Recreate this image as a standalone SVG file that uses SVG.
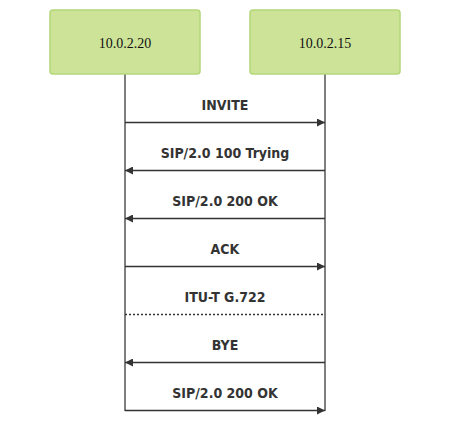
<svg xmlns="http://www.w3.org/2000/svg" width="450" height="421" viewBox="0 0 450 421">
<style>
.actor{fill:#cde498;stroke:#b2d67a;stroke-width:1.5}
.atext{font-family:"Liberation Serif",serif;font-size:14px;fill:#111;text-anchor:middle;dominant-baseline:central}
.life{stroke:#555;stroke-width:1.5}
.msg{stroke:#333;stroke-width:1.5;fill:none}
.dot{stroke:#333;stroke-width:1.5;stroke-dasharray:2,2;fill:none}
.mtext{font-family:"DejaVu Sans Condensed","DejaVu Sans",sans-serif;font-weight:bold;font-size:14px;fill:#333;text-anchor:middle}
</style>
<defs>
<marker id="ah" viewBox="0 0 10 10" refX="10" refY="5" markerWidth="8" markerHeight="8" markerUnits="userSpaceOnUse" orient="auto"><path d="M0,0 L10,5 L0,10 z" fill="#333"/></marker>
</defs>
<rect width="450" height="421" fill="#fff"/>
<g id="lifelines">
<line class="life" x1="125" y1="74" x2="125" y2="411"/>
<line class="life" x1="325" y1="74" x2="325" y2="411"/>
</g>
<g id="a1"><rect class="actor" x="50" y="10" width="150" height="64" rx="3"/><text class="atext" x="125" y="43">10.0.2.20</text></g>
<g id="a2"><rect class="actor" x="250" y="10" width="150" height="64" rx="3"/><text class="atext" x="325" y="43">10.0.2.15</text></g>
<g id="connectors">
<line class="msg" x1="125" y1="122.5" x2="325" y2="122.5" marker-end="url(#ah)"/>
<text class="mtext" x="225" y="110">INVITE</text>
<line class="msg" x1="325" y1="170.5" x2="125" y2="170.5" marker-end="url(#ah)"/>
<text class="mtext" x="225" y="158">SIP/2.0 100 Trying</text>
<line class="msg" x1="325" y1="218.5" x2="125" y2="218.5" marker-end="url(#ah)"/>
<text class="mtext" x="225" y="206">SIP/2.0 200 OK</text>
<line class="msg" x1="125" y1="266.5" x2="325" y2="266.5" marker-end="url(#ah)"/>
<text class="mtext" x="225" y="254">ACK</text>
<line class="dot" x1="125" y1="314.5" x2="325" y2="314.5"/>
<text class="mtext" x="225" y="302">ITU-T G.722</text>
<line class="msg" x1="325" y1="362.5" x2="125" y2="362.5" marker-end="url(#ah)"/>
<text class="mtext" x="225" y="350">BYE</text>
<line class="msg" x1="125" y1="410.5" x2="325" y2="410.5" marker-end="url(#ah)"/>
<text class="mtext" x="225" y="398">SIP/2.0 200 OK</text>
</g>
</svg>
